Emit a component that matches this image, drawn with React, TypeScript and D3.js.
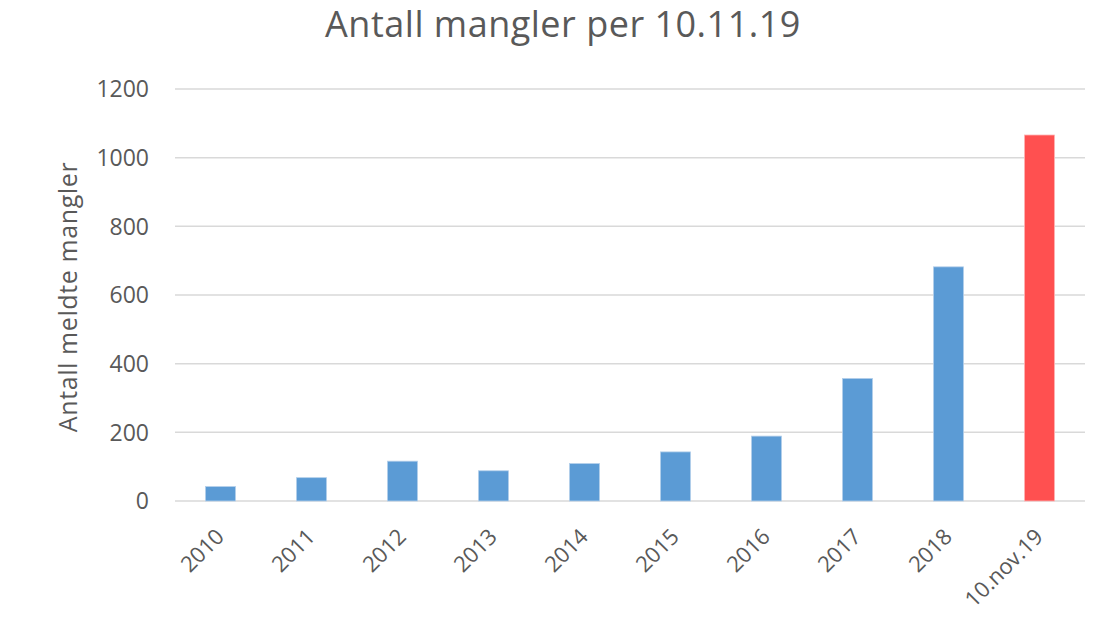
import React from 'react';
import * as d3 from 'd3';

const categories = ['2010', '2011', '2012', '2013', '2014', '2015', '2016', '2017', '2018', '10.nov.19'];
const values = [42, 68, 116, 88, 109, 143, 189, 357, 682, 1066];
const yTicks = [0, 200, 400, 600, 800, 1000, 1200];

const W = 1105;
const H = 640;
const margin = {top: 89, right: 20, bottom: 139, left: 175};
const font = '"Open Sans", "Liberation Sans", sans-serif';
const textColor = '#595959';

export default function App() {
  const x = d3
    .scaleBand()
    .domain(categories)
    .range([margin.left, W - margin.right])
    .paddingInner(0.67)
    .paddingOuter(0.335);
  const y = d3
    .scaleLinear()
    .domain([0, 1200])
    .range([H - margin.bottom, margin.top]);

  return (
    <svg
      width={W}
      height={H}
      style={{position: 'absolute', left: 0, top: 0, background: '#fff'}}
      fontFamily={font}
    >
      <text x={563} y={37} textAnchor="middle" fontSize={36} fill={textColor} letterSpacing={0.5}>
        Antall mangler per 10.11.19
      </text>

      {yTicks.map((t) => (
        <g key={t}>
          <line
            x1={margin.left}
            x2={W - margin.right}
            y1={y(t)}
            y2={y(t)}
            stroke="#d9d9d9"
            strokeWidth={1.5}
          />
          <text x={149} y={y(t)} dy="0.36em" textAnchor="end" fontSize={23} fill={textColor}>
            {t}
          </text>
        </g>
      ))}

      <text
        transform={`translate(77,${(y(0) + y(1200)) / 2 + 2}) rotate(-90)`}
        textAnchor="middle"
        fontSize={25}
        fill={textColor}
        letterSpacing={0.6}
      >
        Antall meldte mangler
      </text>

      {categories.map((c, i) => (
        <rect
          key={c}
          x={x(c)}
          y={y(values[i])}
          width={x.bandwidth()}
          height={y(0) - y(values[i])}
          fill={i === categories.length - 1 ? '#ff5050' : '#5b9bd5'}
          stroke={i === categories.length - 1 ? '#ffb3b3' : '#b4cfea'}
          strokeWidth={0.8}
        />
      ))}

      {categories.map((c) => {
        const cx = (x(c) ?? 0) + x.bandwidth() / 2;
        return (
          <text
            key={c}
            transform={`translate(${cx + 5},${y(0) + 37}) rotate(-45)`}
            textAnchor="end"
            fontSize={22}
            fill={textColor}
          >
            {c}
          </text>
        );
      })}
    </svg>
  );
}
